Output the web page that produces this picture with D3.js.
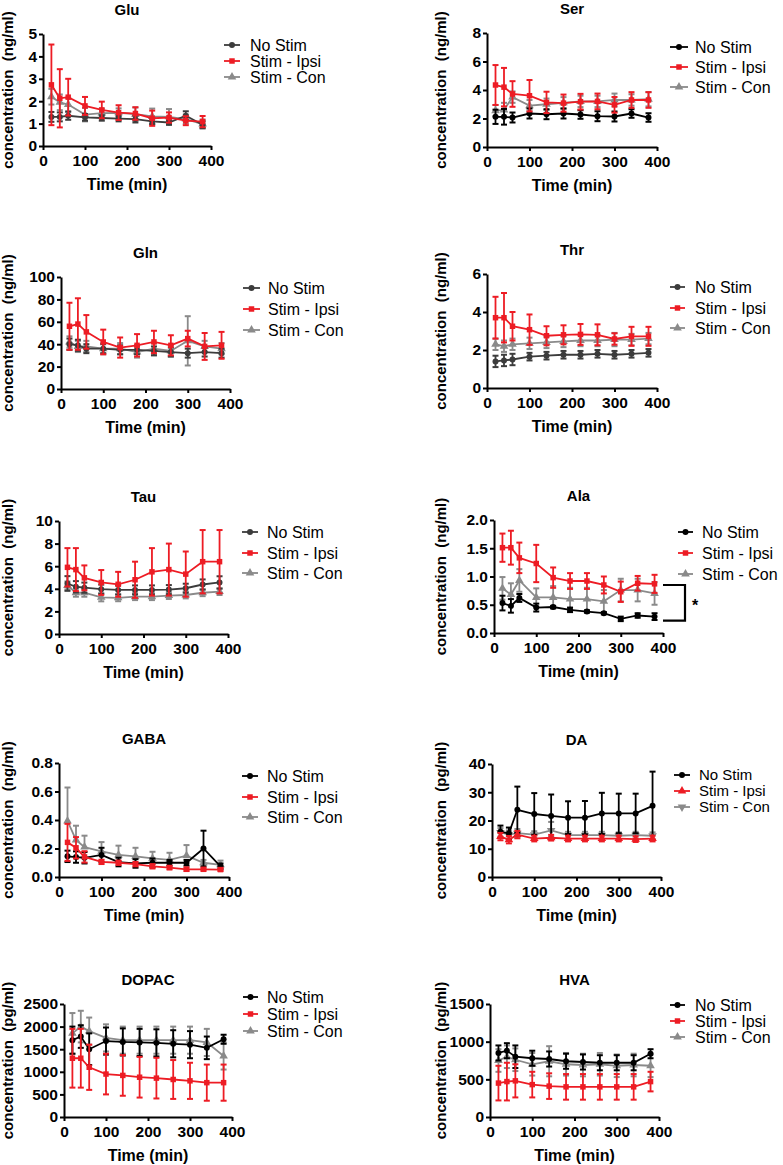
<!DOCTYPE html>
<html><head><meta charset="utf-8">
<script src="https://cdn.jsdelivr.net/npm/d3@7"></script>
<style>body{margin:0;background:#fff} svg{font-family:"Liberation Sans",Arial,sans-serif}</style>
</head><body><svg id="c" width="783" height="1165"></svg>
<script>
const times = [20,40,60,100,140,180,220,260,300,340,380];
const xTicks = [0,100,200,300,400];
const seriesNames = ["No Stim","Stim - Ipsi","Stim - Con"];

const gluNo = [1.30,1.30,1.35,1.28,1.25,1.22,1.20,1.10,1.05,1.35,0.95];
const gluNoErr = [0.22,0.2,0.18,0.15,0.12,0.12,0.15,0.12,0.1,0.2,0.15];
const gluIpsi = [2.73,2.13,2.18,1.79,1.61,1.49,1.45,1.24,1.27,1.13,1.09];
const gluIpsiErr = [1.8,1.3,0.82,0.4,0.37,0.33,0.28,0.34,0.23,0.2,0.25];
const gluCon = [2.2,1.95,1.85,1.4,1.47,1.48,1.42,1.32,1.3,1.2,0.98];
const gluConErr = [0.35,0.35,0.3,0.3,0.2,0.2,0.3,0.35,0.35,0.2,0.2];

const serNo = [2.12,2.12,2.07,2.35,2.30,2.35,2.28,2.16,2.14,2.35,2.07];
const serNoErr = [0.5,0.55,0.35,0.35,0.35,0.35,0.3,0.35,0.35,0.3,0.3];
const serIpsi = [4.35,4.2,3.72,3.6,3.13,3.08,3.18,3.2,2.96,3.3,3.3];
const serIpsiErr = [1.4,1.35,0.9,1.1,0.75,0.6,0.55,0.55,0.55,0.55,0.55];
const serCon = [2.55,2.6,3.5,2.9,3.0,3.1,3.2,3.2,3.3,3.3,3.35];
const serConErr = [0.4,0.5,0.4,0.4,0.4,0.4,0.4,0.4,0.45,0.4,0.5];

const glnNo = [40,39,36,36,35,35,34,33,32,33,32];
const glnNoErr = [5,5,4,4,4,4,4,4,4,4,4];
const glnIpsi = [56,58,51,42,37,39,42,39,45,38,39];
const glnIpsiErr = [21,23,15,11,9,10,10,9,7,12,12];
const glnCon = [42,38,38,36,36,33,36,34,43,38,36];
const glnConErr = [5,5,5,5,5,5,5,5,22,5,5];

const thrNo = [1.4,1.45,1.5,1.65,1.7,1.75,1.75,1.8,1.75,1.8,1.85];
const thrNoErr = [0.3,0.3,0.3,0.2,0.2,0.2,0.2,0.2,0.2,0.2,0.2];
const thrIpsi = [3.7,3.7,3.25,3.07,2.75,2.8,2.82,2.8,2.58,2.72,2.72];
const thrIpsiErr = [1.1,1.3,0.75,0.8,0.5,0.5,0.55,0.55,0.3,0.5,0.5];
const thrCon = [2.3,2.2,2.3,2.35,2.4,2.45,2.5,2.5,2.55,2.55,2.6];
const thrConErr = [0.3,0.3,0.3,0.3,0.3,0.3,0.3,0.3,0.35,0.3,0.3];

const tauNo = [4.47,4.18,4.1,3.97,3.9,3.9,3.9,3.93,4.05,4.38,4.56];
const tauNoErr = [0.65,0.5,0.45,0.4,0.4,0.4,0.4,0.4,0.4,0.45,0.55];
const tauIpsi = [5.9,5.7,4.97,4.56,4.4,4.8,5.5,5.7,5.3,6.4,6.4];
const tauIpsiErr = [1.7,1.9,1.1,1.1,1.1,1.6,2.1,2.3,2.0,2.8,2.8];
const tauCon = [4.3,3.65,3.65,3.24,3.2,3.3,3.3,3.4,3.45,3.65,3.75];
const tauConErr = [0.35,0.35,0.35,0.35,0.3,0.3,0.3,0.3,0.3,0.3,0.3];

const alaNo = [0.53,0.48,0.62,0.45,0.46,0.41,0.38,0.35,0.25,0.31,0.29];
const alaNoErr = [0.13,0.12,0.07,0.07,0.02,0.04,0.02,0.02,0.04,0.04,0.06];
const alaIpsi = [1.51,1.51,1.33,1.23,0.98,0.92,0.92,0.85,0.73,0.88,0.87];
const alaIpsiErr = [0.25,0.3,0.27,0.33,0.18,0.14,0.14,0.15,0.18,0.13,0.16];
const alaCon = [0.79,0.68,0.93,0.63,0.63,0.6,0.6,0.56,0.76,0.76,0.7];
const alaConErr = [0.2,0.2,0.2,0.16,0.2,0.2,0.2,0.2,0.2,0.2,0.2];
const alaBracket = [0.85,0.22];

const gabaNo = [0.145,0.14,0.135,0.155,0.105,0.095,0.1,0.1,0.1,0.2,0.075];
const gabaNoErr = [0.04,0.04,0.04,0.05,0.03,0.03,0.03,0.02,0.02,0.125,0.02];
const gabaIpsi = [0.243,0.205,0.141,0.106,0.1,0.09,0.075,0.066,0.054,0.054,0.052];
const gabaIpsiErr = [0.13,0.075,0.04,0.015,0.015,0.015,0.015,0.012,0.012,0.01,0.01];
const gabaCon = [0.393,0.26,0.21,0.18,0.155,0.145,0.13,0.12,0.15,0.1,0.085];
const gabaConErr = [0.235,0.1,0.08,0.065,0.065,0.06,0.047,0.05,0.074,0.02,0.03];

const daNo = [16,15.5,23.8,22.3,21.6,21,21,22.5,22.5,22.5,25.2];
const daNoErr = [2.2,2,8.2,7.4,7.6,5.8,5.9,7.3,7,7,12.1];
const daIpsi = [14.3,13.2,15,13.6,13.9,13.6,13.6,13.6,13.6,13.4,13.6];
const daIpsiErr = [1.3,1.3,1.3,1,1,1,1,1,1,1,1];
const daCon = [15.8,15,15.5,15,16.5,14.8,14.8,14.8,14.6,14.8,14.6];
const daConErr = [1.5,1.5,1.5,1.2,3,1.2,1.2,1.2,1.2,1.2,1.2];

const dopacNo = [1700,1780,1500,1680,1660,1650,1640,1620,1600,1530,1720];
const dopacNoErr = [300,250,350,300,300,300,300,300,300,250,100];
const dopacIpsi = [1300,1300,1100,950,920,880,860,830,800,760,760];
const dopacIpsiErr = [650,650,500,450,450,450,450,430,400,400,400];
const dopacCon = [1850,2000,1900,1750,1700,1700,1700,1700,1700,1650,1350];
const dopacConErr = [450,350,300,300,300,300,300,300,300,300,300];

const hvaNo = [850,880,800,780,770,740,730,720,720,720,840];
const hvaNoErr = [100,100,150,100,100,100,100,100,100,100,60];
const hvaIpsi = [450,470,480,430,410,400,400,400,400,400,470];
const hvaIpsiErr = [230,250,220,170,170,170,170,170,170,170,130];
const hvaCon = [750,800,760,700,740,700,690,700,680,690,680];
const hvaConErr = [150,150,150,150,200,150,150,150,150,150,150];

const RED = "#ed1c24", GRAY = "#8a8a8a", DARK = "#3c3c3c", BLACK = "#000";

const panels = [
 {title:"Glu", unit:"ng/ml", yMax:5, yTicks:[0,1,2,3,4,5], fmt:"d", no:[gluNo,gluNoErr], ipsi:[gluIpsi,gluIpsiErr], con:[gluCon,gluConErr], noColor:DARK,
  x0:43,x1:211,yT:34,yB:146, lab:13, legL:[224,240,250], legY:[45,61,77]},
 {title:"Ser", unit:"ng/ml", yMax:8, yTicks:[0,2,4,6,8], fmt:"d", no:[serNo,serNoErr], ipsi:[serIpsi,serIpsiErr], con:[serCon,serConErr], noColor:BLACK,
  x0:487,x1:657,yT:33,yB:147, lab:446, legL:[670,688,695], legY:[47,67,87]},
 {title:"Gln", unit:"ng/ml", yMax:100, yTicks:[0,20,40,60,80,100], fmt:"d", no:[glnNo,glnNoErr], ipsi:[glnIpsi,glnIpsiErr], con:[glnCon,glnConErr], noColor:DARK,
  x0:61,x1:230,yT:277,yB:389, lab:13, legL:[243,260,268], legY:[288,309,330]},
 {title:"Thr", unit:"ng/ml", yMax:6, yTicks:[0,2,4,6], fmt:"d", no:[thrNo,thrNoErr], ipsi:[thrIpsi,thrIpsiErr], con:[thrCon,thrConErr], noColor:DARK,
  x0:487,x1:657,yT:274,yB:388, lab:446, legL:[670,685,695], legY:[287,308,328]},
 {title:"Tau", unit:"ng/ml", yMax:10, yTicks:[0,2,4,6,8,10], fmt:"d", no:[tauNo,tauNoErr], ipsi:[tauIpsi,tauIpsiErr], con:[tauCon,tauConErr], noColor:DARK,
  x0:59,x1:228,yT:521,yB:634, lab:13, legL:[242,258,267], legY:[532,553,573]},
 {title:"Ala", unit:"ng/ml", yMax:2, yTicks:[0,0.5,1,1.5,2], fmt:".1f", no:[alaNo,alaNoErr], ipsi:[alaIpsi,alaIpsiErr], con:[alaCon,alaConErr], noColor:BLACK,
  x0:494,x1:663,yT:520,yB:633, lab:446, legL:[678,693,702], legY:[532,553,574], bracket:alaBracket},
 {title:"GABA", unit:"ng/ml", yMax:0.8, yTicks:[0,0.2,0.4,0.6,0.8], fmt:".1f", no:[gabaNo,gabaNoErr], ipsi:[gabaIpsi,gabaIpsiErr], con:[gabaCon,gabaConErr], noColor:BLACK, conUp:true,
  x0:59,x1:229,yT:763,yB:877, lab:13, legL:[242,258,267], legY:[776,797,817]},
 {title:"DA", unit:"pg/ml", yMax:40, yTicks:[0,10,20,30,40], fmt:"d", no:[daNo,daNoErr], ipsi:[daIpsi,daIpsiErr], con:[daCon,daConErr], noColor:BLACK, triMarkers:true,
  x0:492,x1:661,yT:764,yB:877, lab:446, legL:[674,690,699], legY:[775,791,807], legFont:15},
 {title:"DOPAC", unit:"pg/ml", yMax:2500, yTicks:[0,500,1000,1500,2000,2500], fmt:"d", no:[dopacNo,dopacNoErr], ipsi:[dopacIpsi,dopacIpsiErr], con:[dopacCon,dopacConErr], noColor:BLACK,
  x0:64,x1:232,yT:1004,yB:1117, lab:13, legL:[243,258,267], legY:[997,1014,1031]},
 {title:"HVA", unit:"pg/ml", yMax:1500, yTicks:[0,500,1000,1500], fmt:"d", no:[hvaNo,hvaNoErr], ipsi:[hvaIpsi,hvaIpsiErr], con:[hvaCon,hvaConErr], noColor:BLACK,
  x0:490,x1:659,yT:1004,yB:1117, lab:446, legL:[670,685,695], legY:[1005,1021,1037]}
];

const svg = d3.select("#c");

function markerPath(kind){
  if(kind==="circle") return d3.symbol(d3.symbolCircle, 28)();
  if(kind==="square") return d3.symbol(d3.symbolSquare, 30)();
  return d3.symbol(d3.symbolTriangle, 32)();
}

function drawPanel(p){
  const g = svg.append("g");
  const x = d3.scaleLinear().domain([0,400]).range([p.x0,p.x1]);
  const y = d3.scaleLinear().domain([0,p.yMax]).range([p.yB,p.yT]);

  const series = [
    {name:seriesNames[2], vals:p.con[0], err:p.con[1], color:GRAY, mk:"tri", flip:!!p.triMarkers, up:!!p.conUp},
    {name:seriesNames[0], vals:p.no[0], err:p.no[1], color:p.noColor, mk:"circle"},
    {name:seriesNames[1], vals:p.ipsi[0], err:p.ipsi[1], color:RED, mk: p.triMarkers?"tri":"square"}
  ];

  series.forEach(s=>{
    const pts = times.map((t,i)=>({t, v:s.vals[i], e:s.err[i]}));
    const sg = g.append("g");
    pts.forEach(d=>{
      const lo = s.up ? d.v : d.v - d.e, hi = d.v + d.e;
      sg.append("line").attr("x1",x(d.t)).attr("x2",x(d.t)).attr("y1",y(lo)).attr("y2",y(hi))
        .attr("stroke",s.color).attr("stroke-width",1.8);
      sg.append("line").attr("x1",x(d.t)-3).attr("x2",x(d.t)+3).attr("y1",y(hi)).attr("y2",y(hi))
        .attr("stroke",s.color).attr("stroke-width",2);
      if(!s.up) sg.append("line").attr("x1",x(d.t)-3).attr("x2",x(d.t)+3).attr("y1",y(lo)).attr("y2",y(lo))
        .attr("stroke",s.color).attr("stroke-width",2);
    });
    sg.append("path").datum(pts)
      .attr("d", d3.line().x(d=>x(d.t)).y(d=>y(d.v)))
      .attr("fill","none").attr("stroke",s.color).attr("stroke-width",1.8);
    sg.selectAll(".m").data(pts).join("path")
      .attr("d", markerPath(s.mk))
      .attr("transform", d=>`translate(${x(d.t)},${y(d.v)})${s.flip?" rotate(180)":""}`)
      .attr("fill", s.color);
  });

  const ax = g.append("g").attr("transform",`translate(0,${p.yB})`)
    .call(d3.axisBottom(x).tickValues(xTicks).tickFormat(d3.format("d")).tickSize(4).tickPadding(5).tickSizeOuter(0));
  const ay = g.append("g").attr("transform",`translate(${p.x0},0)`)
    .call(d3.axisLeft(y).tickValues(p.yTicks).tickFormat(d3.format(p.fmt)).tickSize(4).tickPadding(2).tickSizeOuter(0));
  [ax,ay].forEach(a=>{
    a.select(".domain").attr("stroke","#000").attr("stroke-width",2);
    a.selectAll(".tick line").attr("stroke","#000").attr("stroke-width",2);
    a.selectAll(".tick text").attr("fill","#000").style("font-size","15.5px").style("font-weight","bold")
      .style("font-family","'Liberation Sans',Arial,sans-serif");
  });

  g.append("text").attr("x",(p.x0+p.x1)/2).attr("y",p.yT-19.5).attr("text-anchor","middle")
    .style("font-size","15px").style("font-weight","bold").text(p.title);
  g.append("text").attr("x",(p.x0+p.x1)/2).attr("y",p.yB+43.5).attr("text-anchor","middle")
    .style("font-size","16px").style("font-weight","bold").text("Time (min)");
  g.append("text").attr("transform",`translate(${p.lab},${(p.yT+p.yB)/2}) rotate(-90)`)
    .attr("text-anchor","middle").style("font-size","15px").style("font-weight","bold")
    .style("white-space","pre").text(`concentration  (${p.unit})`);

  const legOrder = [series[1], series[2], series[0]];
  legOrder.forEach((s,i)=>{
    const ly = p.legY[i];
    g.append("line").attr("x1",p.legL[0]).attr("x2",p.legL[1]).attr("y1",ly).attr("y2",ly)
      .attr("stroke",s.color).attr("stroke-width",1.8);
    g.append("path").attr("d",markerPath(s.mk))
      .attr("transform",`translate(${(p.legL[0]+p.legL[1])/2},${ly})${s.flip?" rotate(180)":""}`).attr("fill",s.color);
    g.append("text").attr("x",p.legL[2]).attr("y",ly).attr("dy","0.36em")
      .style("font-size",(p.legFont||16)+"px").text(s.name);
  });

  if(p.bracket){
    const bx = p.x1 + 22;
    g.append("path")
      .attr("d",`M${p.x1},${y(p.bracket[0])}H${bx}V${y(p.bracket[1])}H${p.x1}`)
      .attr("fill","none").attr("stroke","#000").attr("stroke-width",2.2);
    g.append("text").attr("x",bx+7).attr("y",(y(p.bracket[0])+y(p.bracket[1]))/2+8)
      .style("font-size","16px").style("font-weight","bold").text("*");
  }
}

panels.forEach(drawPanel);
</script></body></html>
